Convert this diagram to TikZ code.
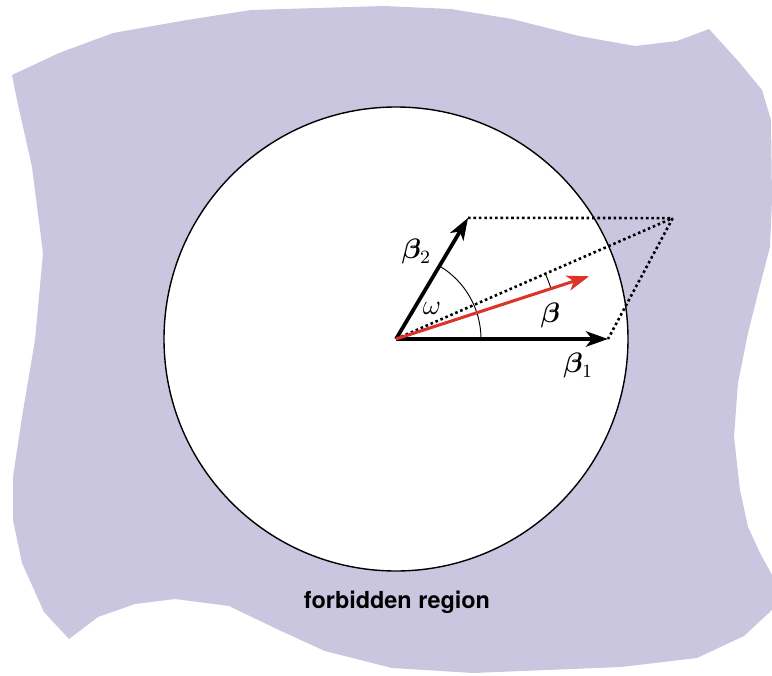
\documentclass[tikz,border=0pt]{standalone}
\usepackage{amsmath,amssymb}
\usepackage{bm}
\usepackage{fontspec}
\newfontfamily\regionfont{TeX Gyre Heros}
\usepackage{tikz}
\usetikzlibrary{calc,arrows.meta}
\usepackage{xcolor}
\definecolor{forbidden}{RGB}{202,198,224}
\definecolor{betacolor}{RGB}{221,52,42}

\begin{document}
\begin{tikzpicture}[x=0.015cm, y=0.015cm, >={Stealth[length=3.3mm, width=2.3mm, inset=0.9mm]},
    vec/.style={line width=1.6pt, ->},
    dotline/.style={line width=1.1pt, dash pattern=on 1.1pt off 1.2pt}]
    \useasboundingbox (0,0) rectangle (772,675);

    % Forbidden region (irregular blob)
    \fill[forbidden] (12,600) -- (59,622) -- (113,642) -- (187,655) -- (251,665) -- (384,669)
        -- (451,666) -- (512,656) -- (579,639) -- (635,629) -- (677,634) -- (709,646)
        -- (739,613) -- (762,585) -- (771,555) -- (772,475) -- (770,428) -- (757,378)
        -- (748,342) -- (738,292) -- (734,238) -- (740,185) -- (748,148) -- (760,122)
        -- (772,100) -- (772,65) -- (744,39) -- (697,17) -- (621,8) -- (473,2) -- (392,7)
        -- (325,24) -- (281,44) -- (229,69) -- (175,76) -- (135,71) -- (98,58) -- (69,36)
        -- (44,63) -- (22,112) -- (13,155) -- (13,198) -- (22,258) -- (35,335) -- (43,422)
        -- (32,508) -- (17,575) -- cycle;

    % Origin and vectors
    \coordinate (O) at (396,336);
    \coordinate (B1) at ($(O)+(0:212)$);
    \coordinate (B2) at ($(O)+(59.25:141)$);
    \coordinate (S) at ($(O)+(23.6:302)$);
    \coordinate (B) at ($(O)+(18:203)$);

    % Allowed disc
    \fill[white, draw=black, line width=0.6pt] (O) circle (232);

    \node[font=\regionfont\bfseries] at (397,73) {forbidden region};

    % Parallelogram
    \draw[dotline] (B2) -- (S) -- (B1);
    \draw[dotline] (O) -- (S);

    % Angle arcs
    \draw[thin] (O) ++(0:85) arc (0:59.25:85);
    \draw[thin] (O) ++(18:163) arc (18:23.6:163);
    \node[font=\large] at ($(O)+(40:47)$) {$\omega$};

    \draw[vec] (O) -- (B1) node[pos=0.86, below=2pt, font=\large] {$\bm{\beta}_1$};
    \draw[vec] (O) -- (B2) node[pos=0.72, left=3pt, font=\large] {$\bm{\beta}_2$};
    \draw[vec, line width=1.3pt, color=betacolor] (O) -- (B) node[pos=0.8, below=2pt, text=black, font=\large] {$\bm{\beta}$};
\end{tikzpicture}
\end{document}
